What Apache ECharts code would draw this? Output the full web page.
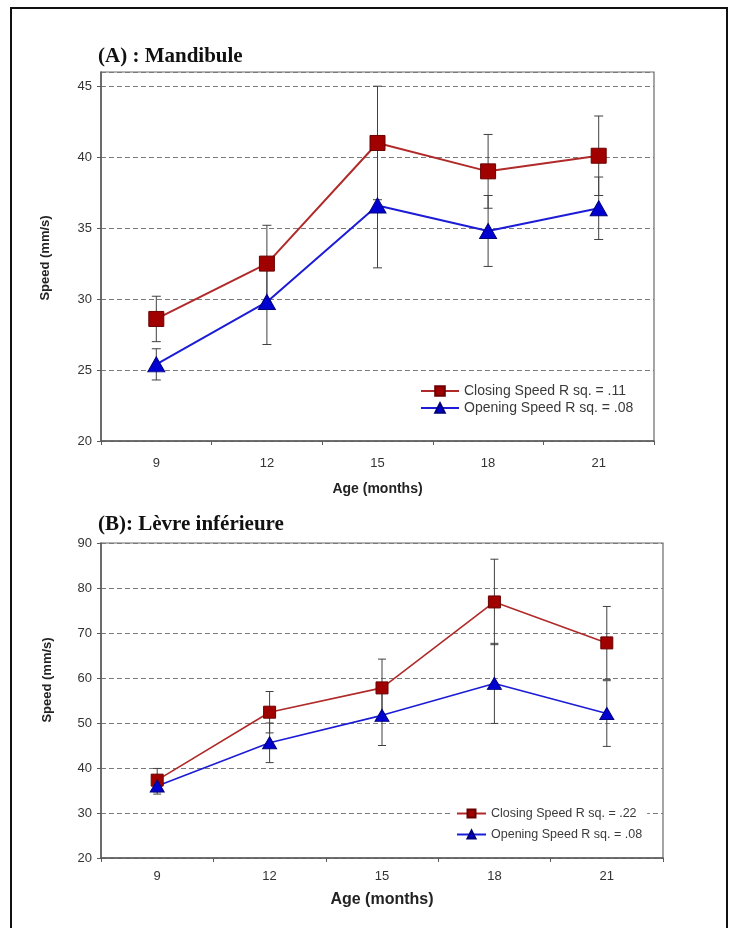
<!DOCTYPE html>
<html>
<head>
<meta charset="utf-8">
<script src="https://cdn.jsdelivr.net/npm/echarts@6/dist/echarts.min.js"></script>
<style>
  html, body { margin: 0; padding: 0; background: #ffffff; }
  #wrap { position: relative; width: 736px; height: 928px; overflow: hidden; background: #fff; }
  .ch { position: absolute; left: 0; top: 0; width: 736px; height: 928px; }
</style>
</head>
<body>
<div id="wrap">
  <div id="chartA" class="ch"></div>
  <div id="chartB" class="ch"></div>
</div>
<script>
// ---------- data ----------
const ages = ['9', '12', '15', '18', '21'];

// (A) Mandibule
const titleA = '(A) : Mandibule';
const closingNameA = 'Closing Speed R sq. = .11';
const openingNameA = 'Opening Speed R sq. = .08';
const closingA    = [28.6, 32.5, 41.0, 39.0, 40.1];
const closingAErr = [1.6, 2.7, 4.0, 2.6, 2.8];
const openingA    = [25.4, 29.8, 36.6, 34.8, 36.4];
const openingAErr = [1.1, 3.0, 4.4, 2.5, 2.2];

// (B) Lèvre inférieure
const titleB = '(B): Lèvre inférieure';
const closingNameB = 'Closing Speed R sq. = .22';
const openingNameB = 'Opening Speed R sq. = .08';
const closingB    = [37.3, 52.4, 57.8, 76.9, 67.8];
const closingBErr = [2.6, 4.6, 6.4, 9.5, 8.1];
const openingB    = [36.0, 45.6, 51.7, 58.8, 52.1];
const openingBErr = [1.8, 4.4, 6.7, 8.9, 7.3];

const xAxisName = 'Age (months)';
const yAxisName = 'Speed (mm/s)';

// ---------- helpers ----------
const SANS = '"Liberation Sans", Arial, Helvetica, sans-serif';
const SERIF = '"Liberation Serif", "Times New Roman", serif';
const RED_LINE = '#b02a2a', RED_MARK = '#a00000', RED_EDGE = '#6a0000';
const BLUE_LINE = '#1c1cd6', BLUE_MARK = '#0000d0', BLUE_EDGE = '#00007a';

function errData(vals, errs) {
  return vals.map((v, i) => [i, v, errs[i]]);
}

function errSeries(vals, errs, hw, color) {
  return {
    type: 'custom',
    z: 1,
    silent: true,
    data: errData(vals, errs),
    encode: { x: 0, y: 1 },
    renderItem: function (params, api) {
      const x = api.value(0), y = api.value(1), e = api.value(2);
      const t = api.coord([x, y + e]);
      const b = api.coord([x, y - e]);
      const st = { stroke: color, lineWidth: 1 };
      return {
        type: 'group',
        children: [
          { type: 'line', shape: { x1: t[0], y1: t[1], x2: b[0], y2: b[1] }, style: st },
          { type: 'line', shape: { x1: t[0] - hw, y1: t[1], x2: t[0] + hw, y2: t[1] }, style: st },
          { type: 'line', shape: { x1: b[0] - hw, y1: b[1], x2: b[0] + hw, y2: b[1] }, style: st }
        ]
      };
    }
  };
}

function lineSeries(name, vals, lineColor, markColor, edgeColor, symbol, size, lw) {
  return {
    type: 'line',
    name: name,
    z: 3,
    data: vals,
    symbol: symbol,
    symbolSize: size,
    showAllSymbol: true,
    lineStyle: { color: lineColor, width: lw },
    itemStyle: { color: markColor, borderColor: edgeColor, borderWidth: 1 },
    emphasis: { disabled: true },
    animation: false
  };
}

function makeOption(c) {
  return {
    animation: false,
    textStyle: { fontFamily: SANS },
    grid: {
      left: c.grid.left, right: c.grid.right, top: c.grid.top, bottom: c.grid.bottom,
      show: true, borderColor: '#6a6a6a', borderWidth: 1.2, backgroundColor: 'transparent'
    },
    legend: {
      data: [c.closingName, c.openingName],
      orient: 'vertical',
      left: c.legend.left, top: c.legend.top,
      itemWidth: c.legend.itemWidth, itemHeight: c.legend.itemHeight, itemGap: c.legend.itemGap,
      backgroundColor: c.legend.bg,
      textStyle: { fontFamily: SANS, fontSize: c.legend.fontSize, color: '#3a3a3a' },
      selectedMode: false,
      z: 5
    },
    xAxis: {
      type: 'category',
      data: ages,
      boundaryGap: true,
      name: xAxisName,
      nameLocation: 'middle',
      nameGap: c.xNameGap,
      nameTextStyle: { fontFamily: SANS, fontWeight: 'bold', fontSize: c.xNameSize, color: '#222' },
      axisLine: { lineStyle: { color: '#5a5a5a', width: 1.5 } },
      axisTick: { show: true, length: 4, lineStyle: { color: '#5a5a5a' } },
      axisLabel: { fontFamily: SANS, fontSize: 13, color: '#333', margin: c.xLabelMargin },
      splitLine: { show: false }
    },
    yAxis: {
      type: 'value',
      min: c.y.min, max: c.y.max, interval: c.y.interval,
      axisLine: { show: true, lineStyle: { color: '#5a5a5a', width: 1.5 } },
      axisTick: { show: true, length: 4, lineStyle: { color: '#5a5a5a' } },
      axisLabel: { fontFamily: SANS, fontSize: 13, color: '#333', margin: 9, showMaxLabel: c.y.showMax },
      splitLine: { show: true, lineStyle: { color: '#7a7a7a', type: [5, 3], width: 1.2 } }
    },
    graphic: c.graphic,
    series: [
      errSeries(c.closing, c.closingErr, c.capHw, '#404040'),
      errSeries(c.opening, c.openingErr, c.capHw, '#404040'),
      lineSeries(c.closingName, c.closing, RED_LINE, RED_MARK, RED_EDGE, 'rect', c.sqSize, c.lw),
      lineSeries(c.openingName, c.opening, BLUE_LINE, BLUE_MARK, BLUE_EDGE, 'triangle', c.triSize, c.lw)
    ]
  };
}

// ---------- chart A ----------
const chartA = echarts.init(document.getElementById('chartA'), null, { renderer: 'canvas' });
chartA.setOption(makeOption({
  grid: { left: 101, right: 82, top: 72, bottom: 487 },
  y: { min: 20, max: 46, interval: 5, showMax: false },
  legend: { left: 415, top: 379, itemWidth: 38, itemHeight: 12, itemGap: 3, fontSize: 14, bg: 'transparent' },
  closingName: closingNameA, openingName: openingNameA,
  closing: closingA, closingErr: closingAErr,
  opening: openingA, openingErr: openingAErr,
  capHw: 4.5, sqSize: 15, triSize: [17, 15], lw: 2,
  xNameGap: 41, xNameSize: 14, xLabelMargin: 16,
  graphic: [
    { type: 'rect', z: 100, silent: true,
      shape: { x: 11, y: 8, width: 716, height: 940 },
      style: { fill: 'none', stroke: '#111', lineWidth: 2 } },
    { type: 'text', z: 100, left: 98, top: 46,
      style: { text: titleA, font: 'bold 21px ' + SERIF, fill: '#111' } },
    { type: 'text', z: 100, x: 45, y: 258, rotation: Math.PI / 2,
      style: { text: yAxisName, font: 'bold 13px ' + SANS, fill: '#222', align: 'center', verticalAlign: 'middle' } }
  ]
}));

// ---------- chart B ----------
const chartB = echarts.init(document.getElementById('chartB'), null, { renderer: 'canvas' });
chartB.setOption(makeOption({
  grid: { left: 101, right: 73, top: 543, bottom: 70 },
  y: { min: 20, max: 90, interval: 10, showMax: true },
  legend: { left: 451, top: 802, itemWidth: 29, itemHeight: 10, itemGap: 8, fontSize: 12.5, bg: '#ffffff' },
  closingName: closingNameB, openingName: openingNameB,
  closing: closingB, closingErr: closingBErr,
  opening: openingB, openingErr: openingBErr,
  capHw: 4, sqSize: 12, triSize: [14, 12], lw: 1.6,
  xNameGap: 34, xNameSize: 16, xLabelMargin: 12,
  graphic: [
    { type: 'text', z: 100, left: 98, top: 514,
      style: { text: titleB, font: 'bold 21px ' + SERIF, fill: '#111' } },
    { type: 'text', z: 100, x: 47, y: 680, rotation: Math.PI / 2,
      style: { text: yAxisName, font: 'bold 13px ' + SANS, fill: '#222', align: 'center', verticalAlign: 'middle' } }
  ]
}));
</script>
</body>
</html>
